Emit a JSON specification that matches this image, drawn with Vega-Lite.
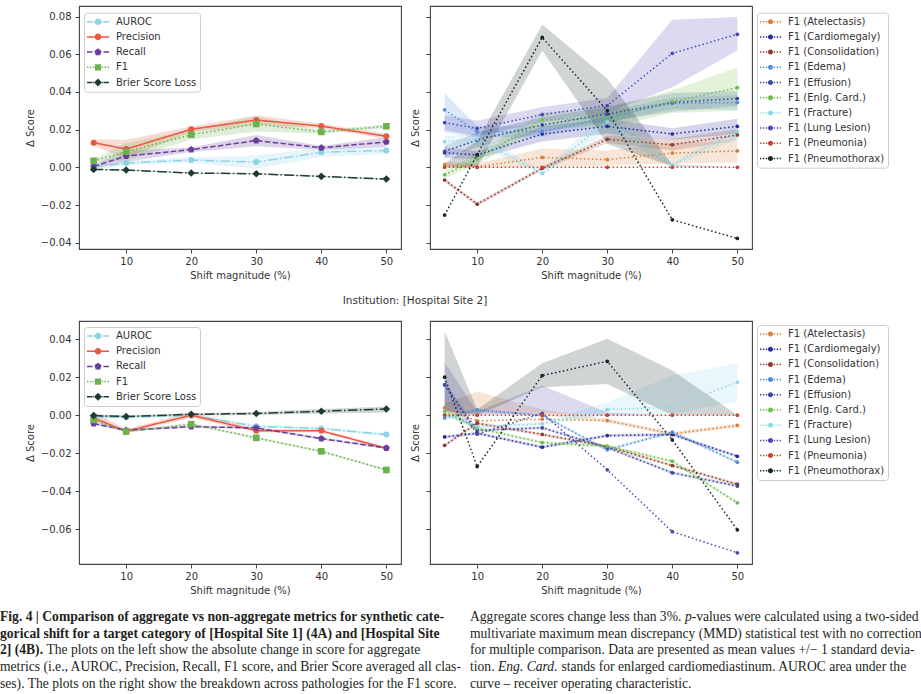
{
  "$schema": "https://vega.github.io/schema/vega-lite/v6.json",
  "background": "white",
  "padding": {"left": 0, "top": 5, "right": 0, "bottom": 0},
  "bounds": "flush",
  "columns": 2,
  "spacing": {"row": 72, "column": 29},
  "resolve": {"scale": {"color": "independent", "fill": "independent", "stroke": "independent", "strokeDash": "independent", "shape": "independent"}},
  "datasets": {
    "topAgg": [
      {"metric":"AUROC","shift":5,"value":0.0001,"lo":-0.0009,"hi":0.0011},
      {"metric":"AUROC","shift":10,"value":0.0023,"lo":0.0011,"hi":0.0035},
      {"metric":"AUROC","shift":20,"value":0.0039,"lo":0.0024,"hi":0.0054},
      {"metric":"AUROC","shift":30,"value":0.0028,"lo":-0.0007,"hi":0.0063},
      {"metric":"AUROC","shift":40,"value":0.0080,"lo":0.0055,"hi":0.0105},
      {"metric":"AUROC","shift":50,"value":0.0090,"lo":0.0072,"hi":0.0108},
      {"metric":"Precision","shift":5,"value":0.0131,"lo":0.0113,"hi":0.0149},
      {"metric":"Precision","shift":10,"value":0.0097,"lo":0.0047,"hi":0.0147},
      {"metric":"Precision","shift":20,"value":0.0202,"lo":0.0187,"hi":0.0217},
      {"metric":"Precision","shift":30,"value":0.0251,"lo":0.0226,"hi":0.0276},
      {"metric":"Precision","shift":40,"value":0.0219,"lo":0.0207,"hi":0.0231},
      {"metric":"Precision","shift":50,"value":0.0165,"lo":0.0150,"hi":0.0180},
      {"metric":"Recall","shift":5,"value":0.0005,"lo":-0.0005,"hi":0.0015},
      {"metric":"Recall","shift":10,"value":0.0060,"lo":0.0030,"hi":0.0090},
      {"metric":"Recall","shift":20,"value":0.0094,"lo":0.0082,"hi":0.0106},
      {"metric":"Recall","shift":30,"value":0.0142,"lo":0.0112,"hi":0.0172},
      {"metric":"Recall","shift":40,"value":0.0104,"lo":0.0094,"hi":0.0114},
      {"metric":"Recall","shift":50,"value":0.0135,"lo":0.0110,"hi":0.0160},
      {"metric":"F1","shift":5,"value":0.0035,"lo":0.0025,"hi":0.0045},
      {"metric":"F1","shift":10,"value":0.0083,"lo":0.0038,"hi":0.0128},
      {"metric":"F1","shift":20,"value":0.0173,"lo":0.0148,"hi":0.0198},
      {"metric":"F1","shift":30,"value":0.0230,"lo":0.0190,"hi":0.0270},
      {"metric":"F1","shift":40,"value":0.0188,"lo":0.0178,"hi":0.0198},
      {"metric":"F1","shift":50,"value":0.0218,"lo":0.0208,"hi":0.0228},
      {"metric":"Brier Score Loss","shift":5,"value":-0.0011,"lo":-0.0014,"hi":-0.0008},
      {"metric":"Brier Score Loss","shift":10,"value":-0.0014,"lo":-0.0017,"hi":-0.0011},
      {"metric":"Brier Score Loss","shift":20,"value":-0.0030,"lo":-0.0033,"hi":-0.0027},
      {"metric":"Brier Score Loss","shift":30,"value":-0.0034,"lo":-0.0037,"hi":-0.0031},
      {"metric":"Brier Score Loss","shift":40,"value":-0.0048,"lo":-0.0051,"hi":-0.0045},
      {"metric":"Brier Score Loss","shift":50,"value":-0.0062,"lo":-0.0065,"hi":-0.0059}
    ],
    "botAgg": [
      {"metric":"AUROC","shift":5,"value":-0.0010,"lo":-0.0016,"hi":-0.0004},
      {"metric":"AUROC","shift":10,"value":-0.0010,"lo":-0.0016,"hi":-0.0004},
      {"metric":"AUROC","shift":20,"value":-0.0001,"lo":-0.0007,"hi":0.0005},
      {"metric":"AUROC","shift":30,"value":-0.0058,"lo":-0.0066,"hi":-0.0050},
      {"metric":"AUROC","shift":40,"value":-0.0070,"lo":-0.0078,"hi":-0.0062},
      {"metric":"AUROC","shift":50,"value":-0.0102,"lo":-0.0110,"hi":-0.0094},
      {"metric":"Precision","shift":5,"value":-0.0014,"lo":-0.0030,"hi":0.0020},
      {"metric":"Precision","shift":10,"value":-0.0084,"lo":-0.0094,"hi":-0.0074},
      {"metric":"Precision","shift":20,"value":0.0000,"lo":-0.0015,"hi":0.0018},
      {"metric":"Precision","shift":30,"value":-0.0081,"lo":-0.0089,"hi":-0.0073},
      {"metric":"Precision","shift":40,"value":-0.0082,"lo":-0.0090,"hi":-0.0074},
      {"metric":"Precision","shift":50,"value":-0.0174,"lo":-0.0182,"hi":-0.0166},
      {"metric":"Recall","shift":5,"value":-0.0044,"lo":-0.0050,"hi":-0.0038},
      {"metric":"Recall","shift":10,"value":-0.0079,"lo":-0.0085,"hi":-0.0073},
      {"metric":"Recall","shift":20,"value":-0.0060,"lo":-0.0066,"hi":-0.0054},
      {"metric":"Recall","shift":30,"value":-0.0067,"lo":-0.0073,"hi":-0.0061},
      {"metric":"Recall","shift":40,"value":-0.0123,"lo":-0.0129,"hi":-0.0117},
      {"metric":"Recall","shift":50,"value":-0.0172,"lo":-0.0178,"hi":-0.0166},
      {"metric":"F1","shift":5,"value":-0.0025,"lo":-0.0031,"hi":-0.0019},
      {"metric":"F1","shift":10,"value":-0.0086,"lo":-0.0092,"hi":-0.0080},
      {"metric":"F1","shift":20,"value":-0.0047,"lo":-0.0053,"hi":-0.0041},
      {"metric":"F1","shift":30,"value":-0.0119,"lo":-0.0125,"hi":-0.0113},
      {"metric":"F1","shift":40,"value":-0.0190,"lo":-0.0196,"hi":-0.0184},
      {"metric":"F1","shift":50,"value":-0.0288,"lo":-0.0294,"hi":-0.0282},
      {"metric":"Brier Score Loss","shift":5,"value":-0.0002,"lo":-0.0008,"hi":0.0004},
      {"metric":"Brier Score Loss","shift":10,"value":-0.0007,"lo":-0.0012,"hi":-0.0002},
      {"metric":"Brier Score Loss","shift":20,"value":0.0005,"lo":-0.0001,"hi":0.0011},
      {"metric":"Brier Score Loss","shift":30,"value":0.0009,"lo":0.0001,"hi":0.0017},
      {"metric":"Brier Score Loss","shift":40,"value":0.0021,"lo":0.0009,"hi":0.0033},
      {"metric":"Brier Score Loss","shift":50,"value":0.0033,"lo":0.0015,"hi":0.0045}
    ],
    "topPath": [
      {"pathology":"F1 (Atelectasis)","shift":5,"value":0.0014,"lo":0.0000,"hi":0.0030},
      {"pathology":"F1 (Atelectasis)","shift":10,"value":0.0003,"lo":-0.0005,"hi":0.0020},
      {"pathology":"F1 (Atelectasis)","shift":20,"value":0.0053,"lo":0.0005,"hi":0.0100},
      {"pathology":"F1 (Atelectasis)","shift":30,"value":0.0041,"lo":0.0010,"hi":0.0090},
      {"pathology":"F1 (Atelectasis)","shift":40,"value":0.0076,"lo":0.0020,"hi":0.0130},
      {"pathology":"F1 (Atelectasis)","shift":50,"value":0.0087,"lo":0.0027,"hi":0.0140},
      {"pathology":"F1 (Cardiomegaly)","shift":5,"value":0.0078,"lo":0.0048,"hi":0.0108},
      {"pathology":"F1 (Cardiomegaly)","shift":10,"value":0.0066,"lo":0.0046,"hi":0.0086},
      {"pathology":"F1 (Cardiomegaly)","shift":20,"value":0.0177,"lo":0.0137,"hi":0.0217},
      {"pathology":"F1 (Cardiomegaly)","shift":30,"value":0.0218,"lo":0.0178,"hi":0.0258},
      {"pathology":"F1 (Cardiomegaly)","shift":40,"value":0.0177,"lo":0.0147,"hi":0.0207},
      {"pathology":"F1 (Cardiomegaly)","shift":50,"value":0.0218,"lo":0.0178,"hi":0.0258},
      {"pathology":"F1 (Consolidation)","shift":5,"value":-0.0067,"lo":-0.0077,"hi":-0.0057},
      {"pathology":"F1 (Consolidation)","shift":10,"value":-0.0195,"lo":-0.0205,"hi":-0.0185},
      {"pathology":"F1 (Consolidation)","shift":20,"value":-0.0005,"lo":-0.0015,"hi":0.0005},
      {"pathology":"F1 (Consolidation)","shift":30,"value":0.0149,"lo":0.0129,"hi":0.0169},
      {"pathology":"F1 (Consolidation)","shift":40,"value":0.0120,"lo":0.0090,"hi":0.0150},
      {"pathology":"F1 (Consolidation)","shift":50,"value":0.0172,"lo":0.0142,"hi":0.0202},
      {"pathology":"F1 (Edema)","shift":5,"value":0.0305,"lo":0.0186,"hi":0.0395},
      {"pathology":"F1 (Edema)","shift":10,"value":0.0188,"lo":0.0158,"hi":0.0218},
      {"pathology":"F1 (Edema)","shift":20,"value":0.0191,"lo":0.0161,"hi":0.0221},
      {"pathology":"F1 (Edema)","shift":30,"value":0.0266,"lo":0.0236,"hi":0.0296},
      {"pathology":"F1 (Edema)","shift":40,"value":0.0340,"lo":0.0310,"hi":0.0370},
      {"pathology":"F1 (Edema)","shift":50,"value":0.0344,"lo":0.0304,"hi":0.0384},
      {"pathology":"F1 (Effusion)","shift":5,"value":0.0085,"lo":0.0055,"hi":0.0115},
      {"pathology":"F1 (Effusion)","shift":10,"value":0.0145,"lo":0.0105,"hi":0.0185},
      {"pathology":"F1 (Effusion)","shift":20,"value":0.0225,"lo":0.0185,"hi":0.0265},
      {"pathology":"F1 (Effusion)","shift":30,"value":0.0283,"lo":0.0243,"hi":0.0323},
      {"pathology":"F1 (Effusion)","shift":40,"value":0.0345,"lo":0.0295,"hi":0.0395},
      {"pathology":"F1 (Effusion)","shift":50,"value":0.0365,"lo":0.0325,"hi":0.0405},
      {"pathology":"F1 (Enlg. Card.)","shift":5,"value":-0.0039,"lo":-0.0059,"hi":-0.0019},
      {"pathology":"F1 (Enlg. Card.)","shift":10,"value":0.0045,"lo":0.0015,"hi":0.0075},
      {"pathology":"F1 (Enlg. Card.)","shift":20,"value":0.0252,"lo":0.0212,"hi":0.0292},
      {"pathology":"F1 (Enlg. Card.)","shift":30,"value":0.0262,"lo":0.0212,"hi":0.0312},
      {"pathology":"F1 (Enlg. Card.)","shift":40,"value":0.0349,"lo":0.0289,"hi":0.0409},
      {"pathology":"F1 (Enlg. Card.)","shift":50,"value":0.0423,"lo":0.0300,"hi":0.0530},
      {"pathology":"F1 (Fracture)","shift":5,"value":0.0136,"lo":0.0106,"hi":0.0166},
      {"pathology":"F1 (Fracture)","shift":10,"value":0.0150,"lo":0.0120,"hi":0.0180},
      {"pathology":"F1 (Fracture)","shift":20,"value":-0.0032,"lo":-0.0047,"hi":-0.0017},
      {"pathology":"F1 (Fracture)","shift":30,"value":0.0243,"lo":0.0193,"hi":0.0293},
      {"pathology":"F1 (Fracture)","shift":40,"value":0.0013,"lo":0.0003,"hi":0.0023},
      {"pathology":"F1 (Fracture)","shift":50,"value":0.0190,"lo":0.0150,"hi":0.0230},
      {"pathology":"F1 (Lung Lesion)","shift":5,"value":0.0237,"lo":0.0197,"hi":0.0277},
      {"pathology":"F1 (Lung Lesion)","shift":10,"value":0.0207,"lo":0.0167,"hi":0.0247},
      {"pathology":"F1 (Lung Lesion)","shift":20,"value":0.0280,"lo":0.0240,"hi":0.0320},
      {"pathology":"F1 (Lung Lesion)","shift":30,"value":0.0328,"lo":0.0288,"hi":0.0368},
      {"pathology":"F1 (Lung Lesion)","shift":40,"value":0.0605,"lo":0.0425,"hi":0.0783},
      {"pathology":"F1 (Lung Lesion)","shift":50,"value":0.0706,"lo":0.0620,"hi":0.0797},
      {"pathology":"F1 (Pneumonia)","shift":5,"value":0,"lo":0,"hi":0},
      {"pathology":"F1 (Pneumonia)","shift":10,"value":0,"lo":0,"hi":0},
      {"pathology":"F1 (Pneumonia)","shift":20,"value":0,"lo":0,"hi":0},
      {"pathology":"F1 (Pneumonia)","shift":30,"value":0,"lo":0,"hi":0},
      {"pathology":"F1 (Pneumonia)","shift":40,"value":0,"lo":0,"hi":0},
      {"pathology":"F1 (Pneumonia)","shift":50,"value":0,"lo":0,"hi":0},
      {"pathology":"F1 (Pneumothorax)","shift":5,"value":-0.0253,"lo":0.0000,"hi":0.0020},
      {"pathology":"F1 (Pneumothorax)","shift":10,"value":0.0067,"lo":0.0000,"hi":0.0140},
      {"pathology":"F1 (Pneumothorax)","shift":20,"value":0.0689,"lo":0.0620,"hi":0.0758},
      {"pathology":"F1 (Pneumothorax)","shift":30,"value":0.0301,"lo":0.0124,"hi":0.0470},
      {"pathology":"F1 (Pneumothorax)","shift":40,"value":-0.0278,"lo":0.0005,"hi":0.0015},
      {"pathology":"F1 (Pneumothorax)","shift":50,"value":-0.0377,"lo":0.0000,"hi":0.0000}
    ],
    "botPath": [
      {"pathology":"F1 (Atelectasis)","shift":5,"value":0.0039,"lo":0.0000,"hi":0.0060},
      {"pathology":"F1 (Atelectasis)","shift":10,"value":-0.0030,"lo":0.0010,"hi":0.0125},
      {"pathology":"F1 (Atelectasis)","shift":20,"value":-0.0021,"lo":0.0000,"hi":0.0030},
      {"pathology":"F1 (Atelectasis)","shift":30,"value":-0.0028,"lo":-0.0038,"hi":-0.0018},
      {"pathology":"F1 (Atelectasis)","shift":40,"value":-0.0098,"lo":-0.0108,"hi":-0.0088},
      {"pathology":"F1 (Atelectasis)","shift":50,"value":-0.0054,"lo":-0.0064,"hi":-0.0044},
      {"pathology":"F1 (Cardiomegaly)","shift":5,"value":-0.0114,"lo":-0.0122,"hi":-0.0106},
      {"pathology":"F1 (Cardiomegaly)","shift":10,"value":-0.0095,"lo":-0.0103,"hi":-0.0087},
      {"pathology":"F1 (Cardiomegaly)","shift":20,"value":-0.0168,"lo":-0.0176,"hi":-0.0160},
      {"pathology":"F1 (Cardiomegaly)","shift":30,"value":-0.0107,"lo":-0.0115,"hi":-0.0099},
      {"pathology":"F1 (Cardiomegaly)","shift":40,"value":-0.0102,"lo":-0.0110,"hi":-0.0094},
      {"pathology":"F1 (Cardiomegaly)","shift":50,"value":-0.0216,"lo":-0.0224,"hi":-0.0208},
      {"pathology":"F1 (Consolidation)","shift":5,"value":-0.0158,"lo":-0.0166,"hi":-0.0150},
      {"pathology":"F1 (Consolidation)","shift":10,"value":-0.0042,"lo":-0.0050,"hi":-0.0034},
      {"pathology":"F1 (Consolidation)","shift":20,"value":-0.0101,"lo":-0.0109,"hi":-0.0093},
      {"pathology":"F1 (Consolidation)","shift":30,"value":-0.0165,"lo":-0.0173,"hi":-0.0157},
      {"pathology":"F1 (Consolidation)","shift":40,"value":-0.0265,"lo":-0.0273,"hi":-0.0257},
      {"pathology":"F1 (Consolidation)","shift":50,"value":-0.0363,"lo":-0.0371,"hi":-0.0355},
      {"pathology":"F1 (Edema)","shift":5,"value":-0.0014,"lo":-0.0022,"hi":-0.0006},
      {"pathology":"F1 (Edema)","shift":10,"value":0.0028,"lo":0.0020,"hi":0.0036},
      {"pathology":"F1 (Edema)","shift":20,"value":-0.0001,"lo":-0.0009,"hi":0.0007},
      {"pathology":"F1 (Edema)","shift":30,"value":-0.0182,"lo":-0.0190,"hi":-0.0174},
      {"pathology":"F1 (Edema)","shift":40,"value":-0.0089,"lo":-0.0097,"hi":-0.0081},
      {"pathology":"F1 (Edema)","shift":50,"value":-0.0247,"lo":-0.0255,"hi":-0.0239},
      {"pathology":"F1 (Effusion)","shift":5,"value":0.0160,"lo":0.0040,"hi":0.0180},
      {"pathology":"F1 (Effusion)","shift":10,"value":-0.0080,"lo":-0.0088,"hi":-0.0072},
      {"pathology":"F1 (Effusion)","shift":20,"value":-0.0066,"lo":-0.0074,"hi":-0.0058},
      {"pathology":"F1 (Effusion)","shift":30,"value":-0.0170,"lo":-0.0178,"hi":-0.0162},
      {"pathology":"F1 (Effusion)","shift":40,"value":-0.0303,"lo":-0.0311,"hi":-0.0295},
      {"pathology":"F1 (Effusion)","shift":50,"value":-0.0373,"lo":-0.0381,"hi":-0.0365},
      {"pathology":"F1 (Enlg. Card.)","shift":5,"value":0.0021,"lo":0.0000,"hi":0.0040},
      {"pathology":"F1 (Enlg. Card.)","shift":10,"value":-0.0068,"lo":-0.0076,"hi":-0.0060},
      {"pathology":"F1 (Enlg. Card.)","shift":20,"value":-0.0144,"lo":-0.0152,"hi":-0.0136},
      {"pathology":"F1 (Enlg. Card.)","shift":30,"value":-0.0163,"lo":-0.0171,"hi":-0.0155},
      {"pathology":"F1 (Enlg. Card.)","shift":40,"value":-0.0242,"lo":-0.0250,"hi":-0.0234},
      {"pathology":"F1 (Enlg. Card.)","shift":50,"value":-0.0461,"lo":-0.0469,"hi":-0.0453},
      {"pathology":"F1 (Fracture)","shift":5,"value":0.0004,"lo":-0.0004,"hi":0.0012},
      {"pathology":"F1 (Fracture)","shift":10,"value":-0.0060,"lo":-0.0068,"hi":-0.0052},
      {"pathology":"F1 (Fracture)","shift":20,"value":-0.0045,"lo":-0.0053,"hi":-0.0037},
      {"pathology":"F1 (Fracture)","shift":30,"value":0.0030,"lo":0.0000,"hi":0.0068},
      {"pathology":"F1 (Fracture)","shift":40,"value":0.0042,"lo":0.0007,"hi":0.0209},
      {"pathology":"F1 (Fracture)","shift":50,"value":0.0174,"lo":0.0072,"hi":0.0272},
      {"pathology":"F1 (Lung Lesion)","shift":5,"value":0.0160,"lo":0.0020,"hi":0.0279},
      {"pathology":"F1 (Lung Lesion)","shift":10,"value":-0.0100,"lo":0.0000,"hi":0.0020},
      {"pathology":"F1 (Lung Lesion)","shift":20,"value":0.0010,"lo":0.0010,"hi":0.0156},
      {"pathology":"F1 (Lung Lesion)","shift":30,"value":-0.0287,"lo":0.0000,"hi":0.0015},
      {"pathology":"F1 (Lung Lesion)","shift":40,"value":-0.0613,"lo":0.0000,"hi":0.0000},
      {"pathology":"F1 (Lung Lesion)","shift":50,"value":-0.0724,"lo":0.0000,"hi":0.0000},
      {"pathology":"F1 (Pneumonia)","shift":5,"value":0,"lo":0,"hi":0},
      {"pathology":"F1 (Pneumonia)","shift":10,"value":0,"lo":0,"hi":0},
      {"pathology":"F1 (Pneumonia)","shift":20,"value":0,"lo":0,"hi":0},
      {"pathology":"F1 (Pneumonia)","shift":30,"value":0,"lo":0,"hi":0},
      {"pathology":"F1 (Pneumonia)","shift":40,"value":0,"lo":0,"hi":0},
      {"pathology":"F1 (Pneumonia)","shift":50,"value":0,"lo":0,"hi":0},
      {"pathology":"F1 (Pneumothorax)","shift":5,"value":0.0200,"lo":0.0025,"hi":0.0442},
      {"pathology":"F1 (Pneumothorax)","shift":10,"value":-0.0270,"lo":0.0000,"hi":0.0030},
      {"pathology":"F1 (Pneumothorax)","shift":20,"value":0.0209,"lo":0.0147,"hi":0.0274},
      {"pathology":"F1 (Pneumothorax)","shift":30,"value":0.0284,"lo":0.0165,"hi":0.0402},
      {"pathology":"F1 (Pneumothorax)","shift":40,"value":-0.0130,"lo":0.0000,"hi":0.0235},
      {"pathology":"F1 (Pneumothorax)","shift":50,"value":-0.0603,"lo":0.0000,"hi":0.0000}
    ],
    "caption": [
      {"col":"left","line":1,"segment":"head","text":"Fig. 4 | Comparison of aggregate vs non-aggregate metrics for synthetic cate-"},
      {"col":"left","line":2,"segment":"head","text":"gorical shift for a target category of [Hospital Site 1] (4A) and [Hospital Site"},
      {"col":"left","line":3,"segment":"head","text":"2] (4B)."},
      {"col":"left","line":3,"segment":"body-cont","text":"The plots on the left show the absolute change in score for aggregate"},
      {"col":"left","line":4,"segment":"body","text":"metrics (i.e., AUROC, Precision, Recall, F1 score, and Brier Score averaged all clas-"},
      {"col":"left","line":5,"segment":"body","text":"ses). The plots on the right show the breakdown across pathologies for the F1 score."},
      {"col":"right","line":1,"segment":"body","text":"Aggregate scores change less than 3%."},
      {"col":"right","line":1,"segment":"p-symbol","text":"p"},
      {"col":"right","line":1,"segment":"p-rest","text":"-values were calculated using a two-sided"},
      {"col":"right","line":2,"segment":"body","text":"multivariate maximum mean discrepancy (MMD) statistical test with no correction"},
      {"col":"right","line":3,"segment":"body","text":"for multiple comparison. Data are presented as mean values +/− 1 standard devia-"},
      {"col":"right","line":4,"segment":"body","text":"tion."},
      {"col":"right","line":4,"segment":"abbr","text":"Eng. Card."},
      {"col":"right","line":4,"segment":"abbr-def","text":"stands for enlarged cardiomediastinum. AUROC area under the"},
      {"col":"right","line":5,"segment":"body","text":"curve – receiver operating characteristic."}
    ]
  },
  "concat": [
    {
      "width": 322, "height": 243,
      "data": {"name": "topAgg"},
      "encoding": {
        "x": {"field": "shift", "type": "quantitative", "title": "Shift magnitude (%)", "scale": {"domain": [2.75, 52.25], "nice": false, "zero": false}, "axis": {"values": [10, 20, 30, 40, 50]}},
        "y": {"field": "value", "type": "quantitative", "title": "Δ Score", "scale": {"domain": [-0.0433, 0.0856], "nice": false, "zero": false}, "axis": {"values": [-0.04, -0.02, 0, 0.02, 0.04, 0.06, 0.08], "format": ".2f"}}
      },
      "layer": [
        {"data": {"values": [{}]}, "mark": {"type": "rule", "color": "#d4d4d4", "strokeWidth": 1.5}, "encoding": {"x": {"datum": 5, "title": "Shift magnitude (%)"}, "x2": {"datum": 50}, "y": {"datum": 0, "title": "Δ Score"}}},
        {"mark": {"type": "area", "opacity": 0.22}, "encoding": {"y": {"field": "lo", "type": "quantitative", "title": "Δ Score"}, "y2": {"field": "hi"}, "fill": {"field": "metric", "type": "nominal", "scale": {"domain": ["Brier Score Loss", "F1", "Recall", "Precision", "AUROC"], "range": ["#1E3B32", "#6BB24E", "#6A3D9A", "#E9573F", "#8DD3E6"]}, "legend": null}}},
        {"mark": {"type": "line", "strokeWidth": 1.5}, "encoding": {"stroke": {"field": "metric", "type": "nominal", "scale": {"domain": ["Brier Score Loss", "F1", "Recall", "Precision", "AUROC"], "range": ["#1E3B32", "#6BB24E", "#6A3D9A", "#E9573F", "#8DD3E6"]}, "legend": null}, "strokeDash": {"field": "metric", "type": "nominal", "scale": {"domain": ["Brier Score Loss", "F1", "Recall", "Precision", "AUROC"], "range": [[9.6, 2.4, 1.5, 2.4], [1.5, 2.5], [5.5, 2.4], [1, 0], [9.6, 2.4, 1.5, 2.4]]}, "legend": null}}},
        {"transform": [{"filter": {"field": "metric", "oneOf": ["AUROC", "Precision"]}}], "mark": {"type": "point", "shape": "circle", "filled": true, "opacity": 1, "size": 36}, "encoding": {"fill": {"field": "metric", "type": "nominal", "legend": null}}},
        {"transform": [{"filter": {"field": "metric", "equal": "Recall"}}], "mark": {"type": "point", "shape": "M0,-1L0.951,-0.309L0.588,0.809L-0.588,0.809L-0.951,-0.309Z", "filled": true, "opacity": 1, "size": 50}, "encoding": {"fill": {"field": "metric", "type": "nominal", "legend": null}}},
        {"transform": [{"filter": {"field": "metric", "equal": "F1"}}], "mark": {"type": "point", "shape": "square", "filled": true, "opacity": 1, "size": 44}, "encoding": {"fill": {"field": "metric", "type": "nominal", "legend": null}}},
        {"transform": [{"filter": {"field": "metric", "equal": "Brier Score Loss"}}], "mark": {"type": "point", "shape": "diamond", "filled": true, "opacity": 1, "size": 58}, "encoding": {"fill": {"field": "metric", "type": "nominal", "legend": null}}},
        {"transform": [{"filter": "false"}], "mark": {"type": "point", "filled": true, "opacity": 1},
         "encoding": {
          "color": {"field": "metric", "type": "nominal", "scale": {"domain": ["AUROC", "Precision", "Recall", "F1", "Brier Score Loss"], "range": ["#8DD3E6", "#E9573F", "#6A3D9A", "#6BB24E", "#1E3B32"]}, "legend": {"title": null, "orient": "none", "legendX": 5, "legendY": 6.7, "symbolSize": 484}},
          "shape": {"field": "metric", "type": "nominal", "scale": {"domain": ["AUROC", "Precision", "Recall", "F1", "Brier Score Loss"], "range": [
            "M-1,-0.068H-0.5V0.068H-1ZM-0.42,-0.068H-0.33V0.068H-0.42ZM0.33,-0.068H0.42V0.068H0.33ZM0.5,-0.068H1V0.068H0.5ZM-0.3,0A0.3,0.3,0,1,1,0.3,0A0.3,0.3,0,1,1,-0.3,0Z",
            "M-1,-0.068H-0.28V0.068H-1ZM0.28,-0.068H1V0.068H0.28ZM-0.3,0A0.3,0.3,0,1,1,0.3,0A0.3,0.3,0,1,1,-0.3,0Z",
            "M-1,-0.068H-0.5V0.068H-1ZM0.5,-0.068H1V0.068H0.5ZM-0.28,-0.068H0.28V0.068H-0.28ZM0,-0.34L0.323,-0.105L0.2,0.275L-0.2,0.275L-0.323,-0.105Z",
            "M-1,-0.068H-0.87V0.068H-1ZM-0.72,-0.068H-0.59V0.068H-0.72ZM-0.46,-0.068H-0.34V0.068H-0.46ZM0.34,-0.068H0.46V0.068H0.34ZM0.59,-0.068H0.72V0.068H0.59ZM0.87,-0.068H1V0.068H0.87ZM-0.28,-0.28H0.28V0.28H-0.28Z",
            "M-1,-0.068H-0.5V0.068H-1ZM-0.44,-0.068H-0.37V0.068H-0.44ZM0.37,-0.068H0.44V0.068H0.37ZM0.5,-0.068H1V0.068H0.5ZM0,-0.36L0.36,0L0,0.36L-0.36,0Z"
          ]}, "legend": {"title": null, "orient": "none", "legendX": 5, "legendY": 6.7, "symbolSize": 484}}
         }}
      ]
    },
    {
      "width": 322, "height": 243,
      "data": {"name": "topPath"},
      "encoding": {
        "x": {"field": "shift", "type": "quantitative", "title": "Shift magnitude (%)", "scale": {"domain": [2.75, 52.25], "nice": false, "zero": false}, "axis": {"values": [10, 20, 30, 40, 50]}},
        "y": {"field": "value", "type": "quantitative", "title": "Δ Score", "scale": {"domain": [-0.0433, 0.0856], "nice": false, "zero": false}, "axis": {"values": [-0.04, -0.02, 0, 0.02, 0.04, 0.06, 0.08], "labels": false, "titlePadding": 5.5}}
      },
      "layer": [
        {"mark": {"type": "area", "opacity": 0.2}, "encoding": {"y": {"field": "lo", "type": "quantitative", "title": "Δ Score"}, "y2": {"field": "hi"}, "fill": {"field": "pathology", "type": "nominal", "scale": {"domain": ["F1 (Pneumothorax)", "F1 (Pneumonia)", "F1 (Lung Lesion)", "F1 (Fracture)", "F1 (Enlg. Card.)", "F1 (Effusion)", "F1 (Edema)", "F1 (Consolidation)", "F1 (Cardiomegaly)", "F1 (Atelectasis)"], "range": ["#16272A", "#C7442C", "#4D47B3", "#8FD7E8", "#6DBE4B", "#3B4A98", "#4F8FDA", "#8F3B2B", "#272C9C", "#D77F35"]}, "legend": null}}},
        {"mark": {"type": "line", "strokeWidth": 1.5, "strokeDash": [1.5, 2.5]}, "encoding": {"stroke": {"field": "pathology", "type": "nominal", "scale": {"domain": ["F1 (Pneumothorax)", "F1 (Pneumonia)", "F1 (Lung Lesion)", "F1 (Fracture)", "F1 (Enlg. Card.)", "F1 (Effusion)", "F1 (Edema)", "F1 (Consolidation)", "F1 (Cardiomegaly)", "F1 (Atelectasis)"], "range": ["#16272A", "#C7442C", "#4D47B3", "#8FD7E8", "#6DBE4B", "#3B4A98", "#4F8FDA", "#8F3B2B", "#272C9C", "#D77F35"]}, "legend": null}}},
        {"mark": {"type": "point", "shape": "circle", "filled": true, "opacity": 1, "size": 14}, "encoding": {"fill": {"field": "pathology", "type": "nominal", "legend": null}}},
        {"transform": [{"filter": "false"}], "mark": {"type": "point", "filled": true, "opacity": 1, "shape": "M-1,-0.07H-0.87V0.07H-1ZM-0.72,-0.07H-0.59V0.07H-0.72ZM-0.44,-0.07H-0.31V0.07H-0.44ZM0.31,-0.07H0.44V0.07H0.31ZM0.59,-0.07H0.72V0.07H0.59ZM0.87,-0.07H1V0.07H0.87ZM-0.24,0A0.24,0.24,0,1,1,0.24,0A0.24,0.24,0,1,1,-0.24,0Z"},
         "encoding": {"color": {"field": "pathology", "type": "nominal", "scale": {"domain": ["F1 (Atelectasis)", "F1 (Cardiomegaly)", "F1 (Consolidation)", "F1 (Edema)", "F1 (Effusion)", "F1 (Enlg. Card.)", "F1 (Fracture)", "F1 (Lung Lesion)", "F1 (Pneumonia)", "F1 (Pneumothorax)"], "range": ["#D77F35", "#272C9C", "#8F3B2B", "#4F8FDA", "#3B4A98", "#6DBE4B", "#8FD7E8", "#4D47B3", "#C7442C", "#16272A"]}, "legend": {"title": null, "orient": "none", "legendX": 327, "legendY": 6.7, "symbolSize": 441, "symbolType": "M-1,-0.07H-0.87V0.07H-1ZM-0.72,-0.07H-0.59V0.07H-0.72ZM-0.44,-0.07H-0.31V0.07H-0.44ZM0.31,-0.07H0.44V0.07H0.31ZM0.59,-0.07H0.72V0.07H0.59ZM0.87,-0.07H1V0.07H0.87ZM-0.24,0A0.24,0.24,0,1,1,0.24,0A0.24,0.24,0,1,1,-0.24,0Z"}}}}
      ]
    },
    {
      "width": 322, "height": 243,
      "title": {"text": "Institution: [Hospital Site 2]", "anchor": "middle", "frame": "group", "dx": 175, "offset": 10, "baseline": "middle", "fontSize": 10.5, "font": "DejaVu Sans", "fontWeight": "normal", "color": "#333"},
      "data": {"name": "botAgg"},
      "encoding": {
        "x": {"field": "shift", "type": "quantitative", "title": "Shift magnitude (%)", "scale": {"domain": [2.75, 52.25], "nice": false, "zero": false}, "axis": {"values": [10, 20, 30, 40, 50]}},
        "y": {"field": "value", "type": "quantitative", "title": "Δ Score", "scale": {"domain": [-0.0783, 0.0496], "nice": false, "zero": false}, "axis": {"values": [-0.06, -0.04, -0.02, 0, 0.02, 0.04], "format": ".2f"}}
      },
      "layer": [
        {"data": {"values": [{}]}, "mark": {"type": "rule", "color": "#d4d4d4", "strokeWidth": 1.5}, "encoding": {"x": {"datum": 5, "title": "Shift magnitude (%)"}, "x2": {"datum": 50}, "y": {"datum": 0, "title": "Δ Score"}}},
        {"mark": {"type": "area", "opacity": 0.22}, "encoding": {"y": {"field": "lo", "type": "quantitative", "title": "Δ Score"}, "y2": {"field": "hi"}, "fill": {"field": "metric", "type": "nominal", "scale": {"domain": ["Brier Score Loss", "F1", "Recall", "Precision", "AUROC"], "range": ["#1E3B32", "#6BB24E", "#6A3D9A", "#E9573F", "#8DD3E6"]}, "legend": null}}},
        {"mark": {"type": "line", "strokeWidth": 1.5}, "encoding": {"stroke": {"field": "metric", "type": "nominal", "scale": {"domain": ["Brier Score Loss", "F1", "Recall", "Precision", "AUROC"], "range": ["#1E3B32", "#6BB24E", "#6A3D9A", "#E9573F", "#8DD3E6"]}, "legend": null}, "strokeDash": {"field": "metric", "type": "nominal", "scale": {"domain": ["Brier Score Loss", "F1", "Recall", "Precision", "AUROC"], "range": [[9.6, 2.4, 1.5, 2.4], [1.5, 2.5], [5.5, 2.4], [1, 0], [9.6, 2.4, 1.5, 2.4]]}, "legend": null}}},
        {"transform": [{"filter": {"field": "metric", "oneOf": ["AUROC", "Precision"]}}], "mark": {"type": "point", "shape": "circle", "filled": true, "opacity": 1, "size": 36}, "encoding": {"fill": {"field": "metric", "type": "nominal", "legend": null}}},
        {"transform": [{"filter": {"field": "metric", "equal": "Recall"}}], "mark": {"type": "point", "shape": "M0,-1L0.951,-0.309L0.588,0.809L-0.588,0.809L-0.951,-0.309Z", "filled": true, "opacity": 1, "size": 50}, "encoding": {"fill": {"field": "metric", "type": "nominal", "legend": null}}},
        {"transform": [{"filter": {"field": "metric", "equal": "F1"}}], "mark": {"type": "point", "shape": "square", "filled": true, "opacity": 1, "size": 44}, "encoding": {"fill": {"field": "metric", "type": "nominal", "legend": null}}},
        {"transform": [{"filter": {"field": "metric", "equal": "Brier Score Loss"}}], "mark": {"type": "point", "shape": "diamond", "filled": true, "opacity": 1, "size": 58}, "encoding": {"fill": {"field": "metric", "type": "nominal", "legend": null}}},
        {"transform": [{"filter": "false"}], "mark": {"type": "point", "filled": true, "opacity": 1},
         "encoding": {
          "color": {"field": "metric", "type": "nominal", "scale": {"domain": ["AUROC", "Precision", "Recall", "F1", "Brier Score Loss"], "range": ["#8DD3E6", "#E9573F", "#6A3D9A", "#6BB24E", "#1E3B32"]}, "legend": {"title": null, "orient": "none", "legendX": 5, "legendY": 6, "symbolSize": 484}},
          "shape": {"field": "metric", "type": "nominal", "scale": {"domain": ["AUROC", "Precision", "Recall", "F1", "Brier Score Loss"], "range": [
            "M-1,-0.068H-0.5V0.068H-1ZM-0.42,-0.068H-0.33V0.068H-0.42ZM0.33,-0.068H0.42V0.068H0.33ZM0.5,-0.068H1V0.068H0.5ZM-0.3,0A0.3,0.3,0,1,1,0.3,0A0.3,0.3,0,1,1,-0.3,0Z",
            "M-1,-0.068H-0.28V0.068H-1ZM0.28,-0.068H1V0.068H0.28ZM-0.3,0A0.3,0.3,0,1,1,0.3,0A0.3,0.3,0,1,1,-0.3,0Z",
            "M-1,-0.068H-0.5V0.068H-1ZM0.5,-0.068H1V0.068H0.5ZM-0.28,-0.068H0.28V0.068H-0.28ZM0,-0.34L0.323,-0.105L0.2,0.275L-0.2,0.275L-0.323,-0.105Z",
            "M-1,-0.068H-0.87V0.068H-1ZM-0.72,-0.068H-0.59V0.068H-0.72ZM-0.46,-0.068H-0.34V0.068H-0.46ZM0.34,-0.068H0.46V0.068H0.34ZM0.59,-0.068H0.72V0.068H0.59ZM0.87,-0.068H1V0.068H0.87ZM-0.28,-0.28H0.28V0.28H-0.28Z",
            "M-1,-0.068H-0.5V0.068H-1ZM-0.44,-0.068H-0.37V0.068H-0.44ZM0.37,-0.068H0.44V0.068H0.37ZM0.5,-0.068H1V0.068H0.5ZM0,-0.36L0.36,0L0,0.36L-0.36,0Z"
          ]}, "legend": {"title": null, "orient": "none", "legendX": 5, "legendY": 6, "symbolSize": 484}}
         }}
      ]
    },
    {
      "width": 322, "height": 243,
      "data": {"name": "botPath"},
      "encoding": {
        "x": {"field": "shift", "type": "quantitative", "title": "Shift magnitude (%)", "scale": {"domain": [2.75, 52.25], "nice": false, "zero": false}, "axis": {"values": [10, 20, 30, 40, 50]}},
        "y": {"field": "value", "type": "quantitative", "title": "Δ Score", "scale": {"domain": [-0.0783, 0.0496], "nice": false, "zero": false}, "axis": {"values": [-0.06, -0.04, -0.02, 0, 0.02, 0.04], "labels": false, "titlePadding": 5.5}}
      },
      "layer": [
        {"mark": {"type": "area", "opacity": 0.2}, "encoding": {"y": {"field": "lo", "type": "quantitative", "title": "Δ Score"}, "y2": {"field": "hi"}, "fill": {"field": "pathology", "type": "nominal", "scale": {"domain": ["F1 (Pneumothorax)", "F1 (Pneumonia)", "F1 (Lung Lesion)", "F1 (Fracture)", "F1 (Enlg. Card.)", "F1 (Effusion)", "F1 (Edema)", "F1 (Consolidation)", "F1 (Cardiomegaly)", "F1 (Atelectasis)"], "range": ["#16272A", "#C7442C", "#4D47B3", "#8FD7E8", "#6DBE4B", "#3B4A98", "#4F8FDA", "#8F3B2B", "#272C9C", "#D77F35"]}, "legend": null}}},
        {"mark": {"type": "line", "strokeWidth": 1.5, "strokeDash": [1.5, 2.5]}, "encoding": {"stroke": {"field": "pathology", "type": "nominal", "scale": {"domain": ["F1 (Pneumothorax)", "F1 (Pneumonia)", "F1 (Lung Lesion)", "F1 (Fracture)", "F1 (Enlg. Card.)", "F1 (Effusion)", "F1 (Edema)", "F1 (Consolidation)", "F1 (Cardiomegaly)", "F1 (Atelectasis)"], "range": ["#16272A", "#C7442C", "#4D47B3", "#8FD7E8", "#6DBE4B", "#3B4A98", "#4F8FDA", "#8F3B2B", "#272C9C", "#D77F35"]}, "legend": null}}},
        {"mark": {"type": "point", "shape": "circle", "filled": true, "opacity": 1, "size": 14}, "encoding": {"fill": {"field": "pathology", "type": "nominal", "legend": null}}},
        {"transform": [{"filter": "false"}], "mark": {"type": "point", "filled": true, "opacity": 1, "shape": "M-1,-0.07H-0.87V0.07H-1ZM-0.72,-0.07H-0.59V0.07H-0.72ZM-0.44,-0.07H-0.31V0.07H-0.44ZM0.31,-0.07H0.44V0.07H0.31ZM0.59,-0.07H0.72V0.07H0.59ZM0.87,-0.07H1V0.07H0.87ZM-0.24,0A0.24,0.24,0,1,1,0.24,0A0.24,0.24,0,1,1,-0.24,0Z"},
         "encoding": {"color": {"field": "pathology", "type": "nominal", "scale": {"domain": ["F1 (Atelectasis)", "F1 (Cardiomegaly)", "F1 (Consolidation)", "F1 (Edema)", "F1 (Effusion)", "F1 (Enlg. Card.)", "F1 (Fracture)", "F1 (Lung Lesion)", "F1 (Pneumonia)", "F1 (Pneumothorax)"], "range": ["#D77F35", "#272C9C", "#8F3B2B", "#4F8FDA", "#3B4A98", "#6DBE4B", "#8FD7E8", "#4D47B3", "#C7442C", "#16272A"]}, "legend": {"title": null, "orient": "none", "legendX": 327, "legendY": 4, "symbolSize": 441, "symbolType": "M-1,-0.07H-0.87V0.07H-1ZM-0.72,-0.07H-0.59V0.07H-0.72ZM-0.44,-0.07H-0.31V0.07H-0.44ZM0.31,-0.07H0.44V0.07H0.31ZM0.59,-0.07H0.72V0.07H0.59ZM0.87,-0.07H1V0.07H0.87ZM-0.24,0A0.24,0.24,0,1,1,0.24,0A0.24,0.24,0,1,1,-0.24,0Z"}}}}
      ]
    },
    {
      "width": 322, "height": 60,
      "view": {"stroke": null},
      "data": {"name": "caption"},
      "encoding": {
        "x": {"field": "col", "type": "nominal", "scale": {"type": "point", "padding": 0, "domain": ["left", "right"], "range": [-79, 391]}, "axis": null},
        "y": {"field": "line", "type": "quantitative", "scale": {"domain": [1, 5], "range": [-19, 47.7], "nice": false, "zero": false}, "axis": null},
        "text": {"field": "text"}
      },
      "layer": [
        {"transform": [{"filter": {"field": "segment", "equal": "head"}}], "mark": {"type": "text", "font": "Liberation Serif", "fontSize": 13.6, "fontWeight": "bold", "align": "left", "baseline": "middle", "color": "#231f20"}},
        {"transform": [{"filter": {"field": "segment", "equal": "body"}}], "mark": {"type": "text", "font": "Liberation Serif", "fontSize": 13.6, "align": "left", "baseline": "middle", "color": "#231f20"}},
        {"transform": [{"filter": {"field": "segment", "equal": "body-cont"}}], "mark": {"type": "text", "font": "Liberation Serif", "fontSize": 13.6, "align": "left", "baseline": "middle", "color": "#231f20", "dx": 46.5}},
        {"transform": [{"filter": {"field": "segment", "equal": "p-symbol"}}], "mark": {"type": "text", "font": "Liberation Serif", "fontSize": 13.6, "fontStyle": "italic", "align": "left", "baseline": "middle", "color": "#231f20", "dx": 214.9}},
        {"transform": [{"filter": {"field": "segment", "equal": "p-rest"}}], "mark": {"type": "text", "font": "Liberation Serif", "fontSize": 13.6, "align": "left", "baseline": "middle", "color": "#231f20", "dx": 221.7}},
        {"transform": [{"filter": {"field": "segment", "equal": "abbr"}}], "mark": {"type": "text", "font": "Liberation Serif", "fontSize": 13.6, "fontStyle": "italic", "align": "left", "baseline": "middle", "color": "#231f20", "dx": 28}},
        {"transform": [{"filter": {"field": "segment", "equal": "abbr-def"}}], "mark": {"type": "text", "font": "Liberation Serif", "fontSize": 13.6, "align": "left", "baseline": "middle", "color": "#231f20", "dx": 91.4}}
      ]
    }
  ],
  "config": {
    "font": "DejaVu Sans",
    "view": {"stroke": "#444", "strokeWidth": 1.1},
    "axis": {"grid": false, "domain": false, "labelFont": "DejaVu Sans", "labelFontSize": 10, "labelColor": "#333", "titleFont": "DejaVu Sans", "titleFontSize": 10, "titleFontWeight": "normal", "titleColor": "#333", "tickColor": "#444", "tickSize": 4, "tickWidth": 1},
    "axisX": {"labelPadding": 3, "titlePadding": 4},
    "axisY": {"labelPadding": 4, "titlePadding": 5},
    "legend": {"labelFont": "DejaVu Sans", "labelFontSize": 10, "labelColor": "#333", "strokeColor": "#cccccc", "fillColor": "rgba(255,255,255,0.8)", "cornerRadius": 3, "padding": 3, "rowPadding": 3.2, "labelOffset": 7, "symbolStrokeWidth": 0, "clipHeight": 12}
  }
}
